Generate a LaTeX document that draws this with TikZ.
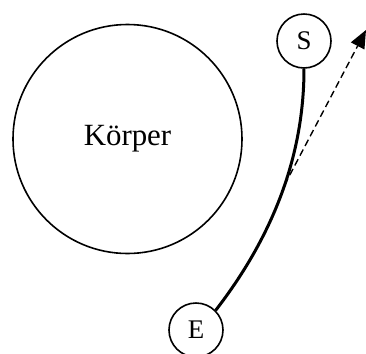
\documentclass[tikz,border=0pt]{standalone}
\usepackage{fontspec}
\setmainfont{Liberation Serif}
\usetikzlibrary{arrows.meta}
\begin{document}
\begin{tikzpicture}[x=1bp,y=-1bp,
  smallcirc/.style={circle,draw,line width=1.6bp,minimum size=54bp,inner sep=0pt,font=\fontsize{27}{30}\selectfont},
  bigcirc/.style={circle,draw,line width=1.6bp,minimum size=229bp,inner sep=0pt,font=\fontsize{31}{35}\selectfont},
  path/.style={line width=3bp},
  dasharrow/.style={line width=1.4bp,dash pattern=on 7bp off 4bp,-{Triangle[length=18bp,width=15bp]}}]
\useasboundingbox (0,0) rectangle (366,354);
\node[bigcirc] (K) at (127.5,139) {Körper};
\node[smallcirc] (S) at (304,41) {S};
\node[smallcirc] (E) at (196,330) {E};
\draw[path] (S.south) .. controls (304,160) and (270,240) .. (E.45);
\coordinate (P) at (284.6,184.9);
\draw[dasharrow] (P) -- (366,30);
\end{tikzpicture}
\end{document}
